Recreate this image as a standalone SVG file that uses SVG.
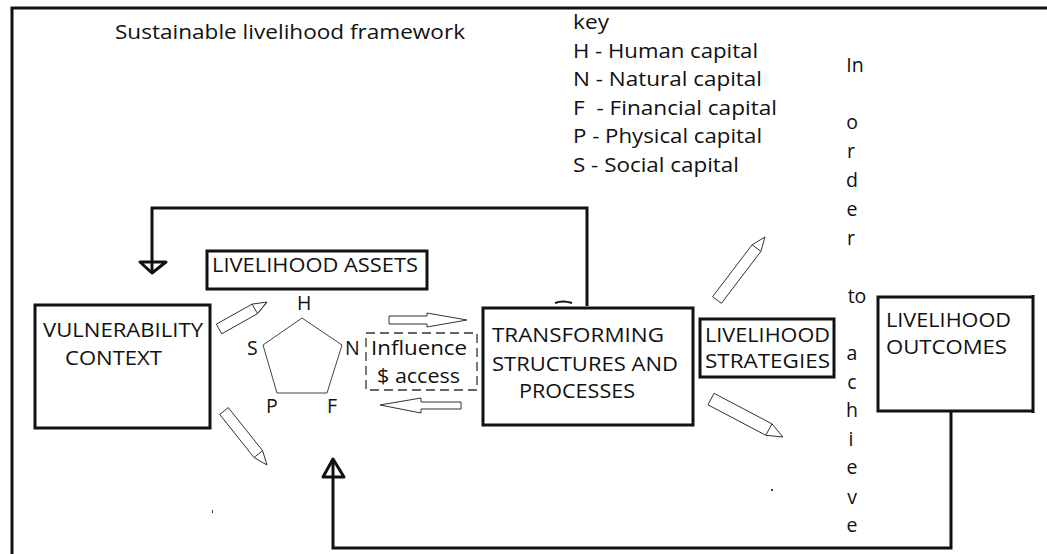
<svg xmlns="http://www.w3.org/2000/svg" width="1047" height="554" viewBox="0 0 1047 554">
<style>
text{font-family:"Open Sans","Noto Sans","Liberation Sans",sans-serif;font-size:19.5px;fill:#111;white-space:pre}
.box{fill:none;stroke:#111;stroke-width:3}
.conn{fill:none;stroke:#111;stroke-width:3}
.pen{fill:#fff;stroke:#333;stroke-width:1}
.blk{fill:#fff;stroke:#333;stroke-width:1}
.vt{text-anchor:middle}
</style>
<rect width="1047" height="554" fill="#fff"/>
<g id="frame">
<path d="M12 554 V8 H1047" fill="none" stroke="#111" stroke-width="3"/>
</g>
<text id="title" x="115" y="39" textLength="350" lengthAdjust="spacingAndGlyphs">Sustainable livelihood framework</text>
<g id="key">
<text x="573" y="29" textLength="36" lengthAdjust="spacingAndGlyphs">key</text>
<text x="573" y="58" textLength="185" lengthAdjust="spacingAndGlyphs">H - Human capital</text>
<text x="573" y="86" textLength="189" lengthAdjust="spacingAndGlyphs">N - Natural capital</text>
<text x="573" y="115" textLength="204" lengthAdjust="spacingAndGlyphs">F  - Financial capital</text>
<text x="573" y="143" textLength="189" lengthAdjust="spacingAndGlyphs">P - Physical capital</text>
<text x="573" y="172" textLength="166" lengthAdjust="spacingAndGlyphs">S - Social capital</text>
</g>
<g id="vertical-text">
<text x="855" y="72" class="vt">In</text>
<text x="852" y="129" class="vt">o</text>
<text x="851" y="158" class="vt">r</text>
<text x="852" y="187" class="vt">d</text>
<text x="852" y="216" class="vt">e</text>
<text x="851" y="245" class="vt">r</text>
<text x="857" y="303" class="vt">to</text>
<text x="852" y="360" class="vt">a</text>
<text x="852" y="389" class="vt">c</text>
<text x="852" y="417" class="vt">h</text>
<text x="851" y="446" class="vt">i</text>
<text x="852" y="474" class="vt">e</text>
<text x="852" y="504" class="vt">v</text>
<text x="852" y="532" class="vt">e</text>
</g>
<g id="connectors">
<path class="conn" d="M587 306 V208 H152 V272"/>
<path d="M140 262 H166 L152 273 Z" fill="none" stroke="#111" stroke-width="3" stroke-linejoin="round"/>
<path class="conn" d="M951 411 V548 H333 V460"/>
<path d="M333 459 L344 477 H323 Z" fill="none" stroke="#111" stroke-width="3" stroke-linejoin="round"/>
<path d="M555 303 Q563 300 572 303" fill="none" stroke="#111" stroke-width="2"/>
<polygon class="pen" points="221.7,333.8 257.5,313.7 267,302 252.1,304.1 216.3,324.2"/>
<line x1="257.5" y1="313.7" x2="267" y2="302" stroke="#333"/>
<line x1="252.1" y1="304.1" x2="257.5" y2="313.7" stroke="#333"/>
<polygon class="pen" points="219.7,414.4 254,457.5 267,465 262.6,450.7 228.3,407.6"/>
<line x1="254" y1="457.5" x2="262.6" y2="450.7" stroke="#333"/>
<polygon class="pen" points="721.4,303.3 760.9,251.4 765,237 752.1,244.8 712.6,296.7"/>
<line x1="752.1" y1="244.8" x2="760.9" y2="251.4" stroke="#333"/>
<polygon class="pen" points="708,404.8 765.8,435.3 783,437 771.9,423.8 714,393.3"/>
<line x1="765.8" y1="435.3" x2="771.9" y2="423.8" stroke="#333"/>
<polygon class="blk" points="389,316 427,316 427,313 467,320 427,327 427,324 389,324"/>
<polygon class="blk" points="461,402 421,402 421,398 380,405 421,413 421,409 461,409"/>
</g>
<g id="vulnerability">
<rect class="box" x="35" y="305" width="175" height="123"/>
<text x="43" y="337" textLength="160" lengthAdjust="spacingAndGlyphs">VULNERABILITY</text>
<text x="65" y="365" textLength="97" lengthAdjust="spacingAndGlyphs">CONTEXT</text>
</g>
<g id="assets">
<rect class="box" x="207" y="251" width="220" height="38"/>
<text x="212" y="272" textLength="206" lengthAdjust="spacingAndGlyphs">LIVELIHOOD ASSETS</text>
</g>
<g id="pentagon">
<polygon points="302,318 342,345 327,393 277,393 263,345" fill="none" stroke="#444" stroke-width="1"/>
<text x="297" y="310">H</text>
<text x="247" y="355">S</text>
<text x="345" y="355">N</text>
<text x="266" y="413">P</text>
<text x="327" y="413">F</text>
</g>
<g id="influence">
<rect x="366" y="333" width="111" height="57" fill="none" stroke="#333" stroke-width="1.3" stroke-dasharray="9,5"/>
<text x="371" y="355" textLength="96" lengthAdjust="spacingAndGlyphs">Influence</text>
<text x="377" y="383" textLength="83" lengthAdjust="spacingAndGlyphs">$ access</text>
</g>
<g id="transforming">
<rect class="box" x="483" y="308" width="210" height="117"/>
<text x="492" y="342" textLength="172" lengthAdjust="spacingAndGlyphs">TRANSFORMING</text>
<text x="492" y="371" textLength="186" lengthAdjust="spacingAndGlyphs">STRUCTURES AND</text>
<text x="519" y="398" textLength="116" lengthAdjust="spacingAndGlyphs">PROCESSES</text>
</g>
<g id="strategies">
<rect class="box" x="700" y="319" width="134" height="58"/>
<text x="705" y="342" textLength="125" lengthAdjust="spacingAndGlyphs">LIVELIHOOD</text>
<text x="705" y="368" textLength="125" lengthAdjust="spacingAndGlyphs">STRATEGIES</text>
</g>
<g id="outcomes">
<path class="box" d="M1032 297 H878 V411 H1032 M1033 295 V413"/>
<text x="886" y="327" textLength="125" lengthAdjust="spacingAndGlyphs">LIVELIHOOD</text>
<text x="886" y="354" textLength="121" lengthAdjust="spacingAndGlyphs">OUTCOMES</text>
</g>
<rect x="212" y="510" width="1" height="3" fill="#333"/>
<rect x="771" y="489" width="2" height="2" fill="#333"/>
</svg>
